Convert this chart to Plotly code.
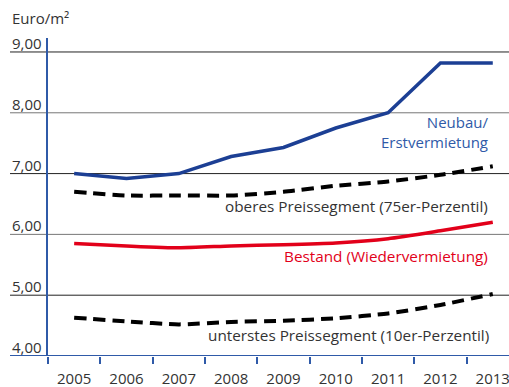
import plotly.graph_objects as go

# Mietpreise je m² in Euro
years = ["2005", "2006", "2007", "2008", "2009", "2010", "2011", "2012", "2013"]
neubau = [7.00, 6.92, 7.00, 7.28, 7.43, 7.75, 8.00, 8.82, 8.82]
oberes = [6.70, 6.64, 6.64, 6.64, 6.70, 6.80, 6.87, 6.98, 7.12]
bestand = [5.85, 5.81, 5.78, 5.81, 5.83, 5.86, 5.93, 6.06, 6.20]
unterstes = [4.63, 4.57, 4.52, 4.56, 4.58, 4.62, 4.70, 4.84, 5.02]
y_ticks = [4, 5, 6, 7, 8, 9]
y_tick_text = ["4,00", "5,00", "6,00", "7,00", "8,00", "9,00"]

BLUE_AXIS = "#2f5aa8"
BLUE_LINE = "#1c3f94"
RED = "#e2001a"
TEXT = "#333333"
FONT = "Open Sans"

W, H = 509, 387
L, R, T, B = 48, 0, 38, 31
plot_w = W - L - R
left_ext = -38 / plot_w  # grid lines run under the tick labels

fig = go.Figure()
fig.add_trace(go.Scatter(x=years, y=unterstes, mode="lines",
                         line=dict(color="black", width=4, dash="12px,7px", shape="spline", smoothing=0.6)))
fig.add_trace(go.Scatter(x=years, y=oberes, mode="lines",
                         line=dict(color="black", width=4, dash="12px,7px", shape="spline", smoothing=0.6)))
fig.add_trace(go.Scatter(x=years, y=bestand, mode="lines",
                         line=dict(color=RED, width=3.5, shape="spline", smoothing=0.6)))
fig.add_trace(go.Scatter(x=years, y=neubau, mode="lines",
                         line=dict(color=BLUE_LINE, width=3.5)))

shapes = []
for v in y_ticks:
    col = BLUE_AXIS if v == 4 else ("#222222" if v % 2 else "#777777")
    shapes.append(dict(type="line", xref="paper", yref="y", x0=left_ext, x1=1, y0=v, y1=v,
                       line=dict(color=col, width=2 if v == 4 else 1), layer="below"))

annotations = []
for v, t in zip(y_ticks, y_tick_text):
    annotations.append(dict(xref="paper", yref="y", x=left_ext, y=v, text=t, showarrow=False,
                            xanchor="left", yanchor="bottom", yshift=-3,
                            font=dict(family=FONT, size=15, color=TEXT)))

annotations += [
    dict(xref="paper", yref="paper", x=left_ext, y=(H - B - 18) / (H - T - B), text="Euro/m²",
         showarrow=False, xanchor="left", yanchor="middle", font=dict(family=FONT, size=15, color=TEXT)),
    dict(xref="paper", yref="paper", x=(490 - L) / plot_w, y=(H - B - 132) / (H - T - B),
         text="Neubau/<br>Erstvermietung", align="right", showarrow=False,
         xanchor="right", yanchor="middle", font=dict(family=FONT, size=15, color=BLUE_AXIS)),
    dict(xref="paper", yref="paper", x=(490 - L) / plot_w, y=(H - B - 206) / (H - T - B),
         text="oberes Preissegment (75er-Perzentil)", showarrow=False,
         xanchor="right", yanchor="middle", font=dict(family=FONT, size=15.3, color=TEXT)),
    dict(xref="paper", yref="paper", x=(490 - L) / plot_w, y=(H - B - 256) / (H - T - B),
         text="Bestand (Wiedervermietung)", showarrow=False,
         xanchor="right", yanchor="middle", font=dict(family=FONT, size=15.3, color=RED)),
    dict(xref="paper", yref="paper", x=(491 - L) / plot_w, y=(H - B - 335) / (H - T - B),
         text="unterstes Preissegment (10er-Perzentil)", showarrow=False,
         xanchor="right", yanchor="middle", font=dict(family=FONT, size=15.3, color=TEXT)),
]

fig.update_layout(
    width=W, height=H,
    margin=dict(l=L, r=R, t=T, b=B, pad=0),
    paper_bgcolor="white", plot_bgcolor="white",
    showlegend=False,
    shapes=shapes,
    annotations=annotations,
    font=dict(family=FONT, size=15, color=TEXT),
)
fig.update_xaxes(type="category", range=[-0.5, 8.31], showgrid=False, zeroline=False,
                 showline=False, ticks="outside", tickson="boundaries", ticklen=7,
                 tickcolor=BLUE_AXIS, tickwidth=1.5, ticklabelstandoff=12,
                 tickfont=dict(family=FONT, size=15, color=TEXT))
fig.update_yaxes(range=[4, 9.23], showgrid=False, zeroline=False, showticklabels=False,
                 ticks="", showline=True, linecolor=BLUE_AXIS, linewidth=1.5)

fig.write_html("out.html")
